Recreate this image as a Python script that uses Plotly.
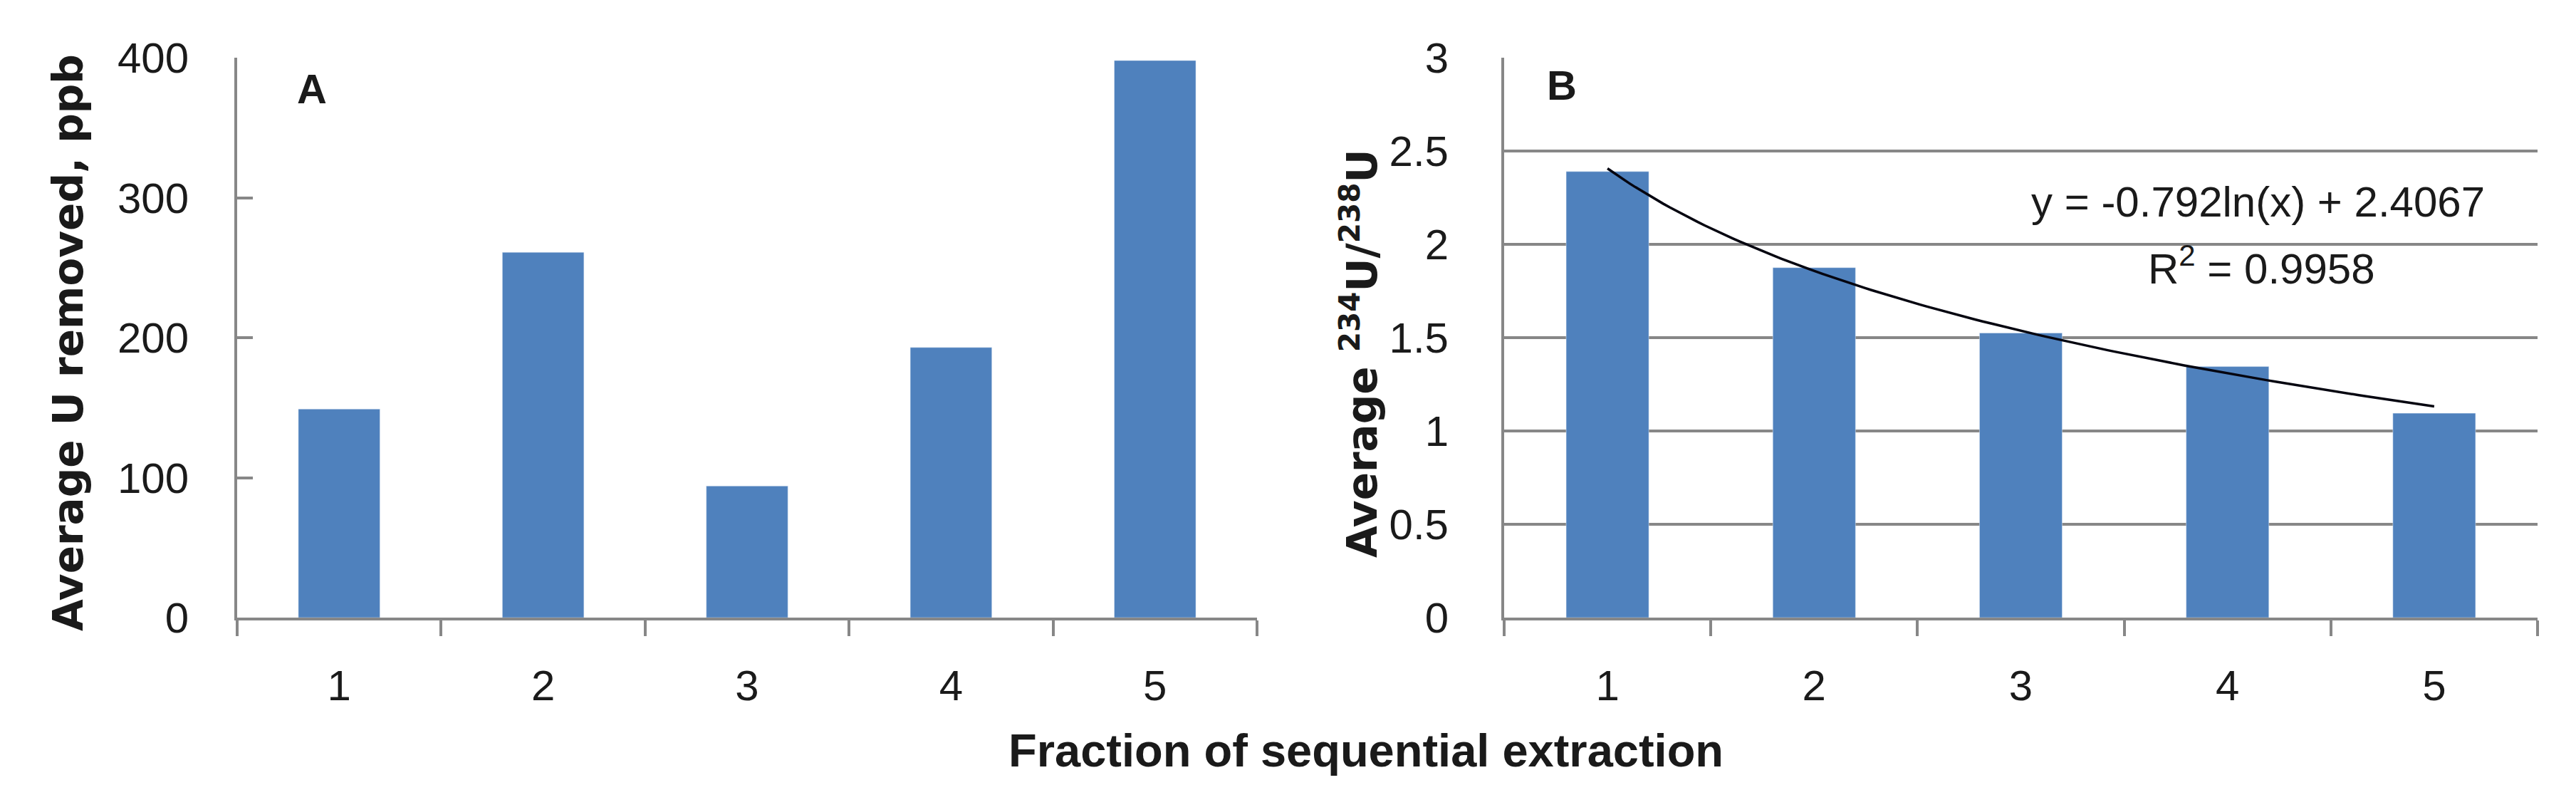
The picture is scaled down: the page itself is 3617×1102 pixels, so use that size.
import numpy as np
import plotly.graph_objects as go

# fraction of the sequential extraction (1-5)
fractions = [1, 2, 3, 4, 5]
# panel A: average U removed, ppb
u_removed = [149, 261, 94, 193, 398]
# panel B: average 234U/238U activity ratio
u_ratio = [2.39, 1.875, 1.525, 1.345, 1.095]
# logarithmic trendline reported on panel B
trend_a, trend_b = -0.792, 2.4067
trend_eq = "y = -0.792ln(x) + 2.4067"
trend_r2 = "R<sup>2</sup> = 0.9958"

BAR = "#4F81BD"
AXIS = "#878787"
TICK_FONT = dict(family="Liberation Sans, Arial, sans-serif", size=60, color="#1a1a1a")
TITLE_FONT = dict(family="DejaVu Sans, Verdana, sans-serif", size=58, color="#1a1a1a")

W, H = 3617, 1102
ydom = [(H - 859) / H, (H - 73) / H]

fig = go.Figure()
fig.add_trace(go.Bar(x=fractions, y=u_removed, marker_color=BAR,
                     xaxis="x", yaxis="y", showlegend=False))
fig.add_trace(go.Bar(x=fractions, y=u_ratio, marker_color=BAR,
                     xaxis="x2", yaxis="y2", showlegend=False))

tx = np.linspace(fractions[0], fractions[-1], 120)
fig.add_trace(go.Scatter(x=tx, y=trend_a * np.log(tx) + trend_b, mode="lines",
                         line=dict(color="#050510", width=3.5),
                         xaxis="x2", yaxis="y2", showlegend=False))

boundaries = [f - 0.5 for f in fractions] + [fractions[-1] + 0.5]
xcommon = dict(range=[0.5, 5.5], tickvals=fractions, ticktext=[str(f) for f in fractions],
               showline=True, linecolor=AXIS, linewidth=4, showgrid=False, zeroline=False,
               ticks="outside", ticklen=22, tickcolor="rgba(0,0,0,0)",
               minor=dict(tickvals=boundaries, ticks="outside", ticklen=22,
                          tickcolor=AXIS, tickwidth=4, showgrid=False),
               tickfont=TICK_FONT, ticklabelstandoff=18, automargin=False)

fig.update_layout(
    width=W, height=H,
    margin=dict(l=0, r=0, t=0, b=0),
    paper_bgcolor="white", plot_bgcolor="white",
    bargap=0.6,
    xaxis=dict(domain=[325 / W, 1757 / W], anchor="y", **xcommon),
    yaxis=dict(domain=ydom, anchor="x", range=[0, 400], dtick=100,
               showline=True, linecolor=AXIS, linewidth=4, showgrid=False, zeroline=False,
               ticks="inside", ticklen=22, tickwidth=4, tickcolor=AXIS,
               tickfont=TICK_FONT, ticklabelstandoff=52, automargin=False),
    xaxis2=dict(domain=[2104 / W, 3555 / W], anchor="y2", **xcommon),
    yaxis2=dict(domain=ydom, anchor="x2", range=[0, 3], dtick=0.5,
                showline=True, linecolor=AXIS, linewidth=4,
                showgrid=True, gridcolor=AXIS, gridwidth=4, zeroline=False,
                ticks="", tickfont=TICK_FONT, ticklabelstandoff=62, automargin=False),
)

annotations = [
    dict(text="Average U removed, ppb", x=88 / W, y=(H - 473) / H, textangle=-90,
         font=dict(TITLE_FONT, weight="bold")),
    dict(text="Average <sup>234</sup>U/<sup>238</sup>U", x=1901 / W, y=(H - 488) / H,
         textangle=-90, font=dict(TITLE_FONT, weight="bold")),
    dict(text="Fraction of sequential extraction", x=1910 / W, y=(H - 1045) / H,
         font=dict(family="Liberation Sans Narrow, Arial Narrow, sans-serif",
                   size=65, color="#1a1a1a", weight="bold")),
    dict(text="A", x=430 / W, y=(H - 116) / H, font=dict(TICK_FONT, size=58, weight="bold")),
    dict(text="B", x=2185 / W, y=(H - 112) / H, font=dict(TICK_FONT, size=58, weight="bold")),
    dict(text=trend_eq, x=3162 / W, y=(H - 275) / H, font=dict(TICK_FONT, size=60)),
    dict(text=trend_r2, x=3167 / W, y=(H - 365) / H, font=dict(TICK_FONT, size=60)),
]
for a in annotations:
    fig.add_annotation(xref="paper", yref="paper", showarrow=False,
                       xanchor="center", yanchor="middle", **a)

fig.write_html("out.html")
